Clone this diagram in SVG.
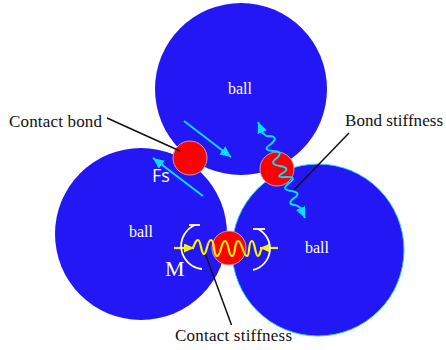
<svg xmlns="http://www.w3.org/2000/svg" width="446" height="350" viewBox="0 0 446 350">
<style>
.ball{fill:#2318f5}
.bond{fill:#fe0000;stroke:#c9a0a8;stroke-width:1}
.lab{font-family:"Liberation Serif",serif;font-size:17px;fill:#111}
.bl{font-family:"Liberation Serif",serif;font-size:16px;fill:#fff;text-anchor:middle}
.leader{stroke:#111;stroke-width:1.5;fill:none}
.cy{stroke:#00e0ff;stroke-width:2;fill:none}
.ye{stroke:#fff200;stroke-width:2.2;fill:none}
.wh{stroke:#fff;stroke-width:1.8;fill:none}
</style>
<defs>
<marker id="ac" markerUnits="userSpaceOnUse" markerWidth="13" markerHeight="12" refX="11" refY="5" orient="auto"><path d="M0 0L11 5L0 10Z" fill="#00e0ff"/></marker>
<marker id="ay" markerUnits="userSpaceOnUse" markerWidth="12" markerHeight="10" refX="10" refY="4.5" orient="auto"><path d="M0 0L10 4.5L0 9Z" fill="#fff200"/></marker>
</defs>
<rect width="446" height="350" fill="#fff"/>
<g id="ball-top"><circle class="ball" cx="241" cy="89" r="86"/><text class="bl" x="240" y="94">ball</text></g>
<g id="ball-left"><circle class="ball" cx="141" cy="234" r="86"/><text class="bl" x="141" y="237">ball</text></g>
<g id="ball-right"><circle class="ball" cx="318" cy="250" r="86" stroke="#30d0f0" stroke-width="1"/><text class="bl" x="317" y="253">ball</text></g>
<g id="bond-contact"><circle class="bond" cx="190" cy="158" r="17"/></g>
<g id="bond-stiff"><circle class="bond" cx="277" cy="169" r="17"/></g>
<g id="bond-bottom"><circle class="bond" cx="229" cy="248" r="17"/></g>
<g id="connectors">
<path class="leader" d="M107 118L180 151"/>
<path class="leader" d="M293 191L349 133"/>
<path class="leader" d="M205 253L231.500 325"/>
<path class="cy" d="M184 121L231 157" marker-end="url(#ac)"/>
<path class="cy" d="M203 196L153 158" marker-end="url(#ac)"/>
<path class="cy" d="M263 133Q266 137 270 136Q279 137 271 144Q261 150 273 151Q284 151 277 158Q268 164 280 166Q291 168 283 173Q274 178 286 177Q298 176 289 183Q280 190 292 191Q302 193 294 198Q286 204 295 205Q299 206 300 208"/>
<path class="cy" d="M263 134L258 122" marker-end="url(#ac)"/>
<path class="cy" d="M300 207L305 218" marker-end="url(#ac)"/>
<path class="ye" d="M174 248L194 248" marker-end="url(#ay)"/>
<path class="ye" d="M278 248L260 248" marker-end="url(#ay)"/>
<path class="ye" d="M193 248C195 243 196 240 198 240C201 240 201 254 204 254C207 254 207 240 211 240C215 240 213 256 217 256C221 256 221 241 225 241C229 241 228 256 232 256C236 256 234 241 238 241C242 241 243 256 247 256C250 256 248 241 252 241C255 241 255 256 258 256C260 256 260 251 262 248"/>
<path class="wh" d="M195 225A23 23 0 0 0 202 269"/>
<path class="wh" d="M189 225L200 225"/>
<path class="wh" d="M258 229A22 22 0 0 1 253 270"/>
<path class="wh" d="M253 229L265 229"/>
</g>
<text class="lab" x="9" y="127" textLength="93">Contact bond</text>
<text class="lab" x="345" y="126" textLength="98">Bond stiffness</text>
<text class="lab" x="175" y="341" textLength="117">Contact stiffness</text>
<text x="165" y="276" font-family="Liberation Serif,serif" font-size="22" fill="#fff">M</text>
<text x="152" y="182" font-family="Open Sans,sans-serif" font-size="18" fill="#fff">Fs</text>
</svg>
